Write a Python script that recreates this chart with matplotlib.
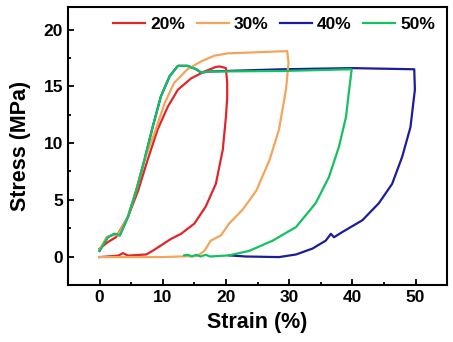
import matplotlib
matplotlib.use("Agg")
import matplotlib.pyplot as plt

plt.rcParams['font.family'] = ['Liberation Sans', 'DejaVu Sans']
plt.rcParams['font.weight'] = 'bold'

labels = ['20%', '30%', '40%', '50%']
colors = ['#e0262a', '#f5a55a', '#1c1c9c', '#14c060']

# 20 % cycle
strain_20 = [0, 1.3, 2.6, 4.5, 6.1, 7.6, 9.2, 10.8, 12.4, 14.5, 16.6, 18.4, 19.0, 20.0,
             20.2, 20.2, 20.0, 19.5, 18.4, 16.8, 15.0, 12.9, 11.3, 9.7, 8.4, 7.4,
             4.5, 3.7, 3.0, 0.0]
stress_20 = [0.68, 1.27, 1.7, 3.5, 5.8, 8.5, 11.2, 13.2, 14.7, 15.7, 16.3, 16.7, 16.75, 16.6,
             15.3, 14.0, 12.3, 9.4, 6.4, 4.4, 2.9, 2.0, 1.55, 0.97, 0.5, 0.18,
             0.08, 0.3, 0.08, -0.05]

# 30 % cycle
strain_30 = [0, 1.1, 1.8, 2.9, 4.5, 5.8, 7.1, 8.7, 10.3, 11.8, 13.9, 16.1, 18.2, 20.3, 25.0,
             29.7, 29.9, 29.5, 28.4, 26.9, 24.8, 22.6, 20.5, 19.2, 17.6, 16.6, 15.5, 10.0, 0.0]
stress_30 = [0.6, 1.7, 1.86, 1.9, 3.5, 5.8, 8.5, 10.9, 13.5, 15.3, 16.5, 17.2, 17.7, 17.9, 18.0,
             18.1, 17.05, 14.7, 11.2, 8.5, 5.8, 4.1, 2.9, 1.86, 1.4, 0.5, 0.05, -0.05, -0.05]

# 40 % cycle (loading hidden under the 50 % curve)
strain_40 = [0, 1.3, 2.4, 3.2, 4.5, 5.8, 7.1, 8.4, 9.7, 11.1, 12.4, 13.9, 15.3, 16.1, 17.2,
             29.0, 40.0, 49.8, 49.9, 49.2, 47.9, 46.3, 44.2, 41.6, 38.4, 37.1, 36.6, 35.8,
             33.7, 31.1, 28.4, 23.2, 20.5]
stress_40 = [0.5, 1.7, 2.0, 1.86, 3.5, 5.8, 8.5, 11.4, 14.1, 15.9, 16.8, 16.8, 16.5, 16.2, 16.3,
             16.5, 16.6, 16.5, 14.7, 11.4, 8.8, 6.4, 4.7, 3.2, 2.15, 1.7, 2.0, 1.4,
             0.7, 0.18, -0.05, 0.0, 0.1]

# 50 % cycle
strain_50 = [0, 1.3, 2.4, 3.2, 4.5, 5.8, 7.1, 8.4, 9.7, 11.1, 12.4, 13.9, 15.3, 16.1, 17.2,
             29.0, 39.9, 39.5, 39.0, 37.9, 36.3, 34.2, 31.1, 27.4, 23.7, 20.5,
             17.5, 16.8, 16.0, 15.3, 14.6, 14.0, 13.4]
stress_50 = [0.5, 1.7, 2.0, 1.86, 3.5, 5.8, 8.5, 11.4, 14.1, 15.9, 16.8, 16.8, 16.5, 16.2, 16.3,
             16.35, 16.5, 14.7, 12.3, 9.7, 7.0, 4.7, 2.6, 1.4, 0.5, 0.1,
             0.0, 0.15, 0.0, 0.15, 0.0, 0.15, 0.1]

curves = [(strain_20, stress_20), (strain_30, stress_30), (strain_40, stress_40), (strain_50, stress_50)]
draw_order = [2, 0, 1, 3]

fig = plt.figure(figsize=(4.53, 3.42), dpi=100)
ax = fig.add_axes([0.150, 0.167, 0.837, 0.813])

lines = {}
for i in draw_order:
    x, y = curves[i]
    ln, = ax.plot(x, y, color=colors[i], lw=1.6, label=labels[i], solid_joinstyle='round')
    lines[i] = ln

ax.set_xlim(-5, 55)
ax.set_ylim(-2.5, 22)
ax.set_xticks([0, 10, 20, 30, 40, 50])
ax.set_xticks([5, 15, 25, 35, 45], minor=True)
ax.set_yticks([0, 5, 10, 15, 20])
ax.set_yticks([2.5, 7.5, 12.5, 17.5], minor=True)
ax.tick_params(which='both', direction='in', width=1.3, labelsize=12.5)
ax.tick_params(which='major', length=4)
ax.tick_params(which='minor', length=2.5)
for s in ax.spines.values():
    s.set_linewidth(1.5)

ax.set_xlabel('Strain (%)', fontsize=15.5, fontweight='bold', labelpad=5)
ax.set_ylabel('Stress (MPa)', fontsize=15.5, fontweight='bold', labelpad=9)

ax.legend([lines[i] for i in range(4)], labels, loc='center left', ncol=4, frameon=False,
          fontsize=12.5, handlelength=1.85, handletextpad=0.3, columnspacing=0.65,
          borderpad=0, borderaxespad=0, bbox_to_anchor=(0.119, 0.935))

fig.savefig('out.png', dpi=100)
